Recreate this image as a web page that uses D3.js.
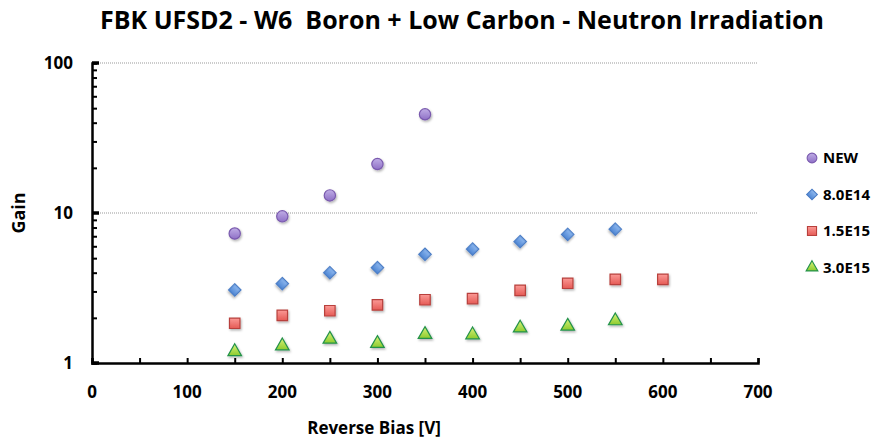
<!DOCTYPE html>
<html><head><meta charset="utf-8">
<script src="https://cdn.jsdelivr.net/npm/d3@7"></script>
<style>
body{margin:0;background:#fff;}
text{font-family:"Open Sans",Lato,sans-serif;font-weight:bold;fill:#000;}
</style></head>
<body><svg id="c" width="878" height="443"></svg>
<script>
const xValues = [150, 200, 250, 300, 350, 400, 450, 500, 550, 600];
const seriesNames = ["NEW", "8.0E14", "1.5E15", "3.0E15"];
const gainNEW = [7.3, 9.5, 13.1, 21.2, 45.5];
const gain8E14 = [3.07, 3.38, 4.0, 4.32, 5.3, 5.75, 6.45, 7.2, 7.8];
const gain15E15 = [1.84, 2.08, 2.23, 2.44, 2.64, 2.69, 3.05, 3.40, 3.61, 3.61];
const gain3E15 = [1.19, 1.30, 1.44, 1.35, 1.55, 1.54, 1.71, 1.76, 1.91];
const xTicks = [0, 100, 200, 300, 400, 500, 600, 700];
const yTicks = [1, 10, 100];

const svg = d3.select("#c");
const defs = svg.append("defs");
const f = defs.append("filter").attr("id","sh").attr("x","-50%").attr("y","-50%").attr("width","200%").attr("height","200%");
f.append("feDropShadow").attr("dx",1).attr("dy",1.5).attr("stdDeviation",1).attr("flood-color","#000").attr("flood-opacity",0.3);
function grad(id, c1, c2){
  const g = defs.append("linearGradient").attr("id",id).attr("x1",0).attr("y1",0).attr("x2",0).attr("y2",1);
  g.append("stop").attr("offset","0%").attr("stop-color",c1);
  g.append("stop").attr("offset","100%").attr("stop-color",c2);
}
grad("gP","#c0aee6","#8e6fc6");
grad("gB","#8fb9ef","#4f86d4");
grad("gR","#fb9a96","#e55a55");
grad("gG","#d9f27a","#8ccb2e");

const x = d3.scaleLinear().domain([0,700]).range([92,758]);
const y = d3.scaleLog().domain([1,100]).range([363,63]);

// gridlines
svg.append("g").selectAll("line").data([10,100]).join("line")
  .attr("x1",x(0)).attr("x2",x(700)).attr("y1",d=>y(d)).attr("y2",d=>y(d))
  .attr("stroke","#999").attr("stroke-width",1).attr("stroke-dasharray","1,1");

// x axis
const xa = svg.append("g").attr("transform",`translate(0,${y(1)})`)
  .call(d3.axisTop(x).tickValues(d3.range(0,701,50)).tickSize(5).tickFormat(""));
xa.select(".domain").attr("stroke-width",2.5);
xa.selectAll(".tick line").attr("stroke-width",2);
svg.append("g").selectAll("text").data(xTicks).join("text")
  .attr("x",d=>x(d)).attr("y",398).attr("text-anchor","middle").attr("font-size",17).text(d=>d);

// y axis
const minor = [];
for (let d=1; d<100; d*=10) for (let k=2;k<=9;k++) minor.push(d*k);
const ya = svg.append("g").attr("transform",`translate(${x(0)},0)`)
  .call(d3.axisRight(y).tickValues(minor).tickSize(5).tickFormat(""));
ya.select(".domain").attr("stroke-width",2.5);
ya.selectAll(".tick line").attr("stroke-width",2);
svg.append("g").selectAll("line").data(yTicks).join("line")
  .attr("x1",x(0)).attr("x2",x(0)+7).attr("y1",d=>y(d)).attr("y2",d=>y(d))
  .attr("stroke","#000").attr("stroke-width",3.5);
svg.append("g").selectAll("text").data(yTicks).join("text")
  .attr("x",73).attr("y",d=>y(d)+6).attr("text-anchor","end").attr("font-size",17).text(d=>d);

// titles
svg.append("text").attr("x",462).attr("y",29).attr("text-anchor","middle").attr("font-size",25)
  .style("white-space","pre").text("FBK UFSD2 - W6  Boron + Low Carbon - Neutron Irradiation");
svg.append("text").attr("x",374).attr("y",434).attr("text-anchor","middle").attr("font-size",17).text("Reverse Bias [V]");
svg.append("text").attr("transform",`translate(25,${y(10)}) rotate(-90)`).attr("text-anchor","middle").attr("font-size",18).text("Gain");

const styles = [
  {type:d3.symbolCircle, size:100, rot:0, fill:"url(#gP)", stroke:"#7a5aae"},
  {type:d3.symbolSquare, size:76, rot:45, fill:"url(#gB)", stroke:"#4a7cc4"},
  {type:d3.symbolSquare, size:110, rot:0, fill:"url(#gR)", stroke:"#b8403c"},
  {type:d3.symbolTriangle, size:80, rot:0, fill:"url(#gG)", stroke:"#23924a"}
];
const allSeries = [gainNEW, gain8E14, gain15E15, gain3E15];
allSeries.forEach((vals,i)=>{
  const s = styles[i];
  const sym = d3.symbol().type(s.type).size(s.size);
  svg.append("g").selectAll("path").data(vals).join("path")
    .attr("transform",(d,j)=>`translate(${x(xValues[j])},${y(d)}) rotate(${s.rot})`)
    .attr("d",sym).attr("fill",s.fill).attr("stroke",s.stroke).attr("stroke-width",1.2)
    .attr("filter","url(#sh)");
});

// legend
const lg = svg.append("g");
seriesNames.forEach((n,i)=>{
  const s = styles[i];
  const yy = 158 + i*36.5;
  lg.append("path").attr("transform",`translate(812,${yy}) rotate(${s.rot})`)
    .attr("d",d3.symbol().type(s.type).size(s.size*0.75)).attr("fill",s.fill).attr("stroke",s.stroke).attr("stroke-width",1.1);
  lg.append("text").attr("x",823).attr("y",yy+5).attr("font-size",15).text(n);
});
</script></body></html>
